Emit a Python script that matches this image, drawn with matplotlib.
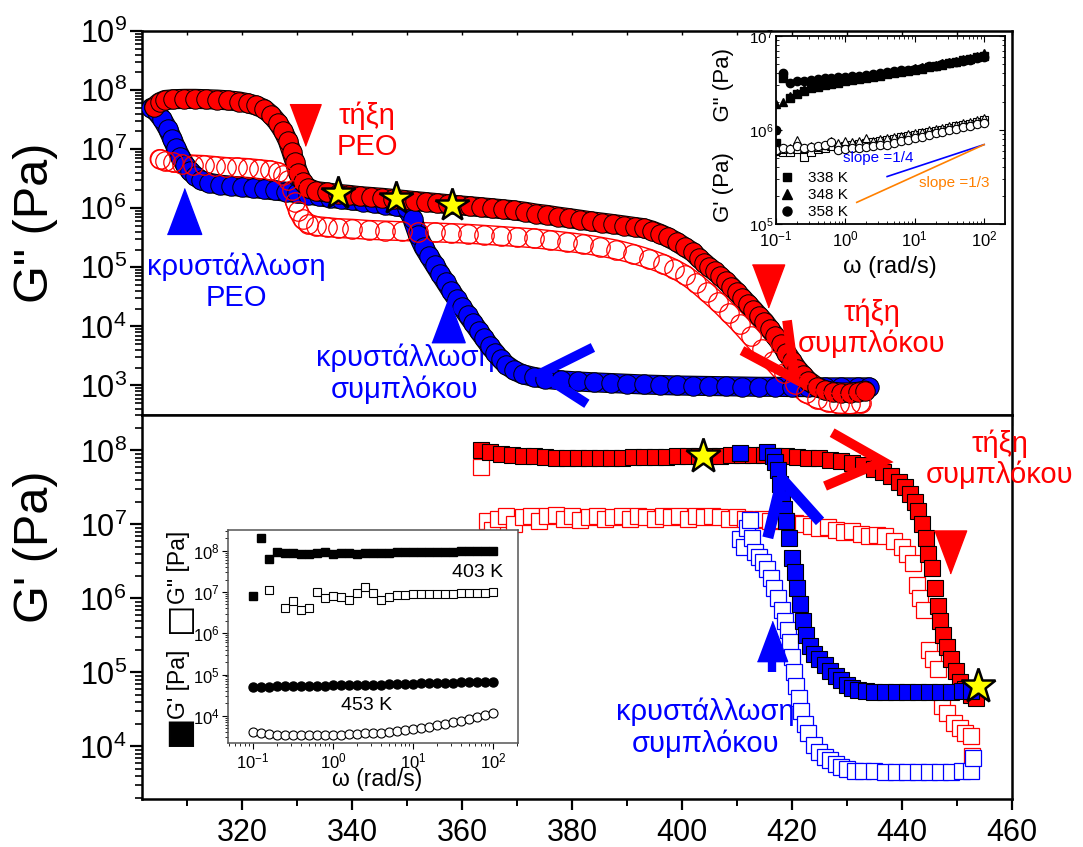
import numpy as np
import matplotlib
matplotlib.use('Agg')
import matplotlib.pyplot as plt
import matplotlib.patheffects as pe
from matplotlib.ticker import LogLocator, NullFormatter, MultipleLocator
from matplotlib.lines import Line2D

plt.rcParams['font.family'] = ['Liberation Sans', 'DejaVu Sans']
plt.rcParams['mathtext.fontset'] = 'custom'
plt.rcParams['mathtext.rm'] = 'Liberation Sans'
plt.rcParams['mathtext.it'] = 'Liberation Sans:italic'
plt.rcParams['mathtext.bf'] = 'Liberation Sans:bold'
plt.rcParams['mathtext.default'] = 'regular'

RED = '#ff0000'
BLUE = '#0000ff'
ORANGE = '#ff8000'

# ---- top panel: G'' vs T (K) ----
t_rf = [304.0, 305.0, 306.0, 307.5, 309.5, 311.5, 313.5, 315.5, 317.5, 319.5, 321.0, 322.5, 324.0,
        325.3, 326.5, 327.5, 328.3, 329.0, 329.6, 330.2, 331.0, 332.0, 333.5, 335.5, 337.5, 339.5,
        341.5, 343.5, 345.5, 347.5, 349.5, 351.5, 353.5, 355.5, 357.5, 359.5, 361.5, 363.5, 365.5,
        367.5, 369.5, 371.5, 373.5, 375.5, 377.5, 379.5, 381.5, 383.5, 385.5, 387.5, 389.5, 391.5,
        393.0, 394.5, 396.0, 397.5, 399.0, 400.5, 402.0, 403.0, 404.0, 405.0, 406.0, 407.0, 408.0,
        409.0, 410.0, 411.0, 412.0, 413.0, 414.0, 415.0, 416.0, 417.0, 418.0, 419.0, 420.0, 421.0,
        422.0, 423.0, 424.5, 426.0, 427.5, 429.0, 430.5, 432.0, 433.3]
g_rf = [5.2e7, 6.2e7, 6.8e7, 7.0e7, 7.1e7, 7.1e7, 7.0e7, 6.9e7, 6.7e7, 6.4e7, 6.0e7, 5.5e7, 4.8e7,
        3.8e7, 2.8e7, 2.0e7, 1.4e7, 9.0e6, 6.0e6, 4.0e6, 2.8e6, 2.2e6, 1.95e6, 1.85e6, 1.75e6, 1.68e6,
        1.6e6, 1.55e6, 1.5e6, 1.44e6, 1.38e6, 1.32e6, 1.27e6, 1.22e6, 1.17e6, 1.12e6, 1.08e6, 1.04e6, 1.0e6,
        9.6e5, 9.2e5, 8.7e5, 8.1e5, 7.7e5, 7.2e5, 6.8e5, 6.4e5, 6.0e5, 5.7e5, 5.4e5, 5.1e5, 4.8e5,
        4.6e5, 4.2e5, 3.7e5, 3.2e5, 2.7e5, 2.2e5, 1.8e5, 1.45e5, 1.2e5, 1.0e5, 8.5e4, 7.0e4, 5.8e4,
        4.7e4, 3.8e4, 3.0e4, 2.4e4, 1.9e4, 1.5e4, 1.2e4, 9.0e3, 6.8e3, 5.0e3, 3.6e3, 2.6e3, 1.9e3,
        1.5e3, 1.2e3, 9.5e2, 8.3e2, 7.8e2, 7.6e2, 7.6e2, 7.8e2, 8.2e2]

t_ro = [305.0, 306.0, 307.5, 309.0, 311.0, 313.0, 315.0, 317.0, 319.0, 321.0, 323.0, 325.0, 326.5,
        327.5, 328.3, 329.0, 329.6, 330.2, 331.0, 332.0, 333.5, 335.5, 337.5, 340.0, 343.0, 346.0,
        349.0, 352.0, 355.0, 358.0, 361.0, 364.0, 367.0, 370.0, 373.0, 376.0, 379.0, 382.0, 385.0,
        388.0, 391.0, 394.0, 396.5, 398.5, 400.5, 402.5, 404.5, 406.5, 408.5, 410.5, 412.5, 414.5,
        416.5, 418.5, 420.5, 422.5, 424.5, 426.5, 428.5, 430.5, 432.5]
g_ro = [6.8e6, 6.4e6, 6.0e6, 5.7e6, 5.5e6, 5.4e6, 5.2e6, 5.0e6, 4.9e6, 4.8e6, 4.6e6, 4.4e6, 4.1e6,
        3.7e6, 3.0e6, 2.0e6, 1.3e6, 9.0e5, 6.5e5, 5.5e5, 5.0e5, 4.8e5, 4.6e5, 4.5e5, 4.3e5, 4.2e5,
        4.1e5, 4.0e5, 3.9e5, 3.8e5, 3.7e5, 3.55e5, 3.4e5, 3.25e5, 3.1e5, 2.9e5, 2.7e5, 2.5e5, 2.25e5,
        2.0e5, 1.7e5, 1.4e5, 1.15e5, 9.5e4, 7.5e4, 5.5e4, 3.8e4, 2.6e4, 1.7e4, 1.1e4, 6.8e3, 4.2e3,
        2.6e3, 1.6e3, 1.05e3, 7.5e2, 6.0e2, 5.3e2, 4.9e2, 4.8e2, 5.0e2]

t_bf = [303.5, 304.5, 305.5, 306.5, 307.3, 308.0, 308.8, 309.6, 310.5, 311.5, 312.5, 314.0, 316.0,
        318.0, 320.0, 322.0, 324.0, 326.0, 328.0, 330.0, 332.0, 334.0, 336.0, 338.0, 340.0, 342.0,
        344.0, 346.0, 348.0, 350.0, 351.0, 352.0, 353.0, 354.0, 355.0, 356.0, 357.0, 358.0, 359.0,
        360.0, 361.0, 362.0, 363.0, 364.0, 365.0, 366.0, 367.0, 368.0, 369.5, 371.0, 373.0, 375.0,
        378.0, 381.0, 384.0, 387.0, 390.0, 393.0, 396.0, 399.0, 402.0, 405.0, 408.0, 411.0, 414.0,
        417.0, 420.0, 423.0, 426.0, 429.0, 432.0, 434.0]
g_bf = [5.0e7, 4.2e7, 3.2e7, 2.2e7, 1.5e7, 1.05e7, 7.5e6, 5.5e6, 4.3e6, 3.5e6, 3.0e6, 2.7e6, 2.5e6,
        2.4e6, 2.3e6, 2.2e6, 2.1e6, 2.0e6, 1.9e6, 1.8e6, 1.7e6, 1.6e6, 1.5e6, 1.43e6, 1.36e6, 1.3e6,
        1.23e6, 1.15e6, 1.08e6, 1.0e6, 6.5e5, 3.5e5, 2.2e5, 1.55e5, 1.1e5, 7.8e4, 5.6e4, 4.0e4, 2.9e4,
        2.1e4, 1.55e4, 1.15e4, 8.5e3, 6.3e3, 4.7e3, 3.6e3, 2.8e3, 2.25e3, 1.8e3, 1.55e3, 1.4e3, 1.3e3,
        1.22e3, 1.17e3, 1.13e3, 1.1e3, 1.07e3, 1.04e3, 1.02e3, 1.0e3, 9.9e2, 9.8e2, 9.7e2, 9.6e2, 9.5e2,
        9.5e2, 9.4e2, 9.4e2, 9.3e2, 9.3e2, 9.3e2, 9.3e2]

t_star_top = [337.4, 348.0, 358.2]
g_star_top = [1.78e6, 1.48e6, 1.12e6]

# ---- bottom panel: G' vs T (K) ----
t_sq_rf = [363.5, 365.0, 367.0, 369.0, 371.0, 373.0, 375.0, 377.0, 379.0, 381.0, 383.0, 385.0, 387.0,
           389.0, 391.0, 393.0, 395.0, 397.0, 399.0, 401.0, 403.0, 405.0, 407.0, 409.0, 411.0, 413.0,
           415.0, 417.0, 419.0, 421.0, 423.0, 425.0, 427.0, 429.0, 431.0, 433.0, 435.0, 436.5, 438.0,
           439.5, 440.5, 441.5, 442.3, 443.0, 443.7, 444.3, 444.8, 445.4, 446.0, 446.5, 447.0, 447.5,
           448.2, 449.0, 449.8, 450.6, 451.5, 452.5, 453.5]
g_sq_rf = [1.0e8, 9.5e7, 9.0e7, 8.7e7, 8.5e7, 8.3e7, 8.1e7, 8.0e7, 7.9e7, 7.9e7, 7.9e7, 7.9e7, 8.0e7,
           8.0e7, 8.1e7, 8.1e7, 8.2e7, 8.2e7, 8.3e7, 8.3e7, 8.4e7, 8.5e7, 8.5e7, 8.6e7, 8.6e7, 8.6e7,
           8.6e7, 8.5e7, 8.4e7, 8.2e7, 8.0e7, 7.8e7, 7.5e7, 7.2e7, 6.8e7, 6.3e7, 5.7e7, 5.1e7, 4.5e7,
           3.8e7, 3.2e7, 2.6e7, 2.0e7, 1.5e7, 1.0e7, 6.5e6, 4.0e6, 2.6e6, 1.4e6, 8.0e5, 5.0e5, 3.2e5,
           2.2e5, 1.5e5, 1.05e5, 7.5e4, 6.0e4, 5.0e4, 4.5e4]

t_sq_ro = [363.5, 364.5, 365.5, 366.5, 368.0, 369.5, 371.0, 372.5, 374.0, 375.5, 377.0, 378.5, 380.0,
           381.5, 383.0, 384.5, 386.0, 387.5, 389.0, 390.5, 392.0, 393.5, 395.0, 396.5, 398.0, 399.5,
           401.0, 402.5, 404.0, 405.5, 407.0, 408.5, 410.0, 411.5, 413.0, 414.5, 416.0, 417.5, 419.0,
           420.5, 422.0, 423.5, 425.0, 426.5, 428.0, 429.5, 431.0, 432.5, 434.0, 435.5, 437.0, 438.5,
           440.0, 441.0, 442.0, 442.7, 443.3, 444.0, 445.0, 445.7, 446.5, 447.3, 448.2, 449.5, 450.5,
           451.5, 452.5, 452.8]
g_sq_ro = [6.0e7, 1.1e7, 8.5e6, 1.2e7, 1.3e7, 1.0e7, 1.25e7, 1.3e7, 1.1e7, 1.3e7, 1.35e7, 1.2e7, 1.3e7,
           1.15e7, 1.25e7, 1.3e7, 1.2e7, 1.25e7, 1.3e7, 1.2e7, 1.3e7, 1.25e7, 1.2e7, 1.3e7, 1.25e7, 1.3e7,
           1.2e7, 1.3e7, 1.25e7, 1.3e7, 1.25e7, 1.2e7, 1.25e7, 1.2e7, 1.15e7, 1.2e7, 1.1e7, 1.15e7, 1.1e7,
           1.05e7, 1.0e7, 9.5e6, 9.0e6, 9.3e6, 8.5e6, 8.0e6, 8.2e6, 7.5e6, 7.0e6, 7.2e6, 6.9e6, 6.0e6,
           5.0e6, 4.0e6, 3.0e6, 1.5e6, 1.0e6, 7.0e5, 2.0e5, 1.5e5, 1.1e5, 3.5e4, 2.8e4, 2.1e4, 1.8e4,
           1.5e4, 1.4e4, 7.5e3]

t_sq_bf = [410.5, 415.5, 416.5, 417.0, 417.4, 417.8, 418.2, 418.6, 419.0, 419.5, 420.0, 420.5, 421.0,
           421.5, 422.0, 422.6, 423.3, 424.0, 425.0, 426.0, 427.0, 428.0, 429.0, 430.0, 431.0, 432.0,
           433.5, 435.0, 437.0, 439.0, 441.0, 443.0, 445.0, 447.0, 449.0, 451.0, 452.5]
g_sq_bf = [9.2e7, 9.5e7, 8.5e7, 7.0e7, 5.5e7, 3.5e7, 2.3e7, 1.6e7, 1.1e7, 6.5e6, 3.5e6, 2.3e6, 1.4e6,
           8.5e5, 5.0e5, 3.2e5, 2.3e5, 1.8e5, 1.5e5, 1.25e5, 1.05e5, 9.0e4, 7.8e4, 6.8e4, 6.2e4, 5.8e4,
           5.6e4, 5.5e4, 5.5e4, 5.5e4, 5.5e4, 5.5e4, 5.5e4, 5.5e4, 5.5e4, 5.6e4, 5.6e4]

t_sq_bo = [410.5, 411.2, 411.8, 412.3, 412.8, 413.3, 414.0, 414.7, 415.4, 416.1, 416.8, 417.5, 418.2,
           418.7, 419.2, 419.6, 420.0, 420.4, 420.8, 421.2, 421.7, 422.3, 423.0, 424.0, 425.0, 426.0,
           427.0, 428.0, 429.0, 430.0, 431.5, 433.0, 435.0, 437.0, 439.0, 441.0, 443.0, 445.0, 447.0,
           449.0, 451.0, 452.5, 453.0]
g_sq_bo = [6.3e6, 5.0e6, 9.0e6, 1.15e7, 6.5e6, 4.2e6, 3.6e6, 3.1e6, 2.5e6, 1.9e6, 1.4e6, 1.0e6, 7.0e5,
           5.0e5, 3.8e5, 2.6e5, 1.6e5, 1.0e5, 6.5e4, 4.5e4, 3.0e4, 2.0e4, 1.5e4, 1.05e4, 8.5e3, 7.2e3,
           6.5e3, 5.8e3, 5.2e3, 4.9e3, 4.7e3, 4.6e3, 4.6e3, 4.5e3, 4.5e3, 4.5e3, 4.5e3, 4.5e3, 4.5e3,
           4.5e3, 4.6e3, 4.7e3, 7.0e3]

t_star_bot = [403.8, 453.8]
g_star_bot = [8.3e7, 6.6e4]

# ---- insets: frequency sweeps ----
omega = [0.1, 0.126, 0.158, 0.2, 0.251, 0.316, 0.398, 0.501, 0.631, 0.794, 1.0, 1.26, 1.58, 2.0, 2.51,
         3.16, 3.98, 5.01, 6.31, 7.94, 10.0, 12.6, 15.8, 20.0, 25.1, 31.6, 39.8, 50.1, 63.1, 79.4, 100.0]

gp_338 = [7.2e5, 3.6e6, 2.2e6, 2.4e6, 2.6e6, 2.8e6, 2.9e6, 3.0e6, 3.1e6, 3.2e6, 3.3e6, 3.4e6, 3.5e6,
          3.6e6, 3.7e6, 3.8e6, 3.9e6, 4.0e6, 4.1e6, 4.25e6, 4.4e6, 4.5e6, 4.65e6, 4.8e6, 4.95e6, 5.1e6,
          5.3e6, 5.5e6, 5.7e6, 5.95e6, 6.2e6]
gp_348 = [1.9e6, 2.0e6, 2.3e6, 2.5e6, 2.7e6, 2.85e6, 3.0e6, 3.1e6, 3.2e6, 3.3e6, 3.4e6, 3.5e6, 3.6e6,
          3.7e6, 3.8e6, 3.9e6, 4.0e6, 4.1e6, 4.25e6, 4.4e6, 4.55e6, 4.7e6, 4.8e6, 4.95e6, 5.1e6, 5.25e6,
          5.45e6, 5.65e6, 5.9e6, 6.2e6, 6.6e6]
gp_358 = [1.0e6, 4.0e6, 3.2e6, 3.3e6, 3.35e6, 3.4e6, 3.5e6, 3.55e6, 3.6e6, 3.65e6, 3.7e6, 3.75e6, 3.8e6,
          3.85e6, 3.95e6, 4.0e6, 4.1e6, 4.2e6, 4.3e6, 4.4e6, 4.5e6, 4.6e6, 4.75e6, 4.85e6, 5.0e6, 5.1e6,
          5.25e6, 5.4e6, 5.6e6, 5.8e6, 6.0e6]
gpp_338 = [6.0e5, 5.8e5, 5.9e5, 6.3e5, 5.2e5, 5.9e5, 6.3e5, 6.5e5, 6.7e5, 6.6e5, 6.8e5, 7.0e5, 7.1e5,
           7.3e5, 7.5e5, 7.7e5, 7.9e5, 8.1e5, 8.4e5, 8.6e5, 8.9e5, 9.2e5, 9.5e5, 9.8e5, 1.01e6, 1.05e6,
           1.09e6, 1.13e6, 1.17e6, 1.22e6, 1.28e6]
gpp_348 = [6.2e5, 6.3e5, 6.5e5, 7.8e5, 6.4e5, 6.8e5, 6.6e5, 7.0e5, 7.6e5, 7.2e5, 7.6e5, 7.4e5, 7.7e5,
           8.2e5, 7.6e5, 8.0e5, 8.3e5, 8.4e5, 8.7e5, 9.0e5, 9.2e5, 9.6e5, 9.9e5, 1.02e6, 1.05e6, 1.1e6,
           1.13e6, 1.18e6, 1.22e6, 1.28e6, 1.33e6]
gpp_358 = [6.2e5, 6.4e5, 6.3e5, 6.8e5, 6.5e5, 6.6e5, 6.7e5, 6.9e5, 7.4e5, 6.2e5, 6.3e5, 6.5e5, 6.4e5,
           6.6e5, 6.8e5, 6.9e5, 7.0e5, 7.3e5, 7.6e5, 7.9e5, 8.3e5, 8.5e5, 8.8e5, 9.2e5, 9.5e5, 9.9e5,
           1.03e6, 1.07e6, 1.11e6, 1.15e6, 1.18e6]

gp_403 = [8.1e6, 2.1e8, 6.3e7, 9.6e7, 8.8e7, 8.8e7, 8.4e7, 8.6e7, 8.8e7, 9.3e7, 8.6e7, 8.8e7, 9.0e7,
          8.6e7, 8.7e7, 9.1e7, 9.0e7, 9.1e7, 9.2e7, 9.3e7, 9.3e7, 9.4e7, 9.4e7, 9.5e7, 9.6e7, 9.6e7,
          9.7e7, 9.8e7, 9.8e7, 9.9e7, 1.0e8]
gpp_403 = [np.nan, np.nan, 1.1e7, np.nan, 4.2e6, 6.0e6, 3.6e6, 4.0e6, 1.0e7, 7.2e6, 8.2e6, 7.5e6, 6.3e6,
           9.5e6, 1.35e7, 9.7e6, 6.3e6, 7.6e6, 8.3e6, 8.6e6, 8.8e6, 8.9e6, 9.0e6, 9.0e6, 9.1e6, 9.2e6,
           9.3e6, 9.4e6, 9.5e6, 9.6e6, 9.8e6]
gp_453 = [5.0e4, 5.05e4, 5.1e4, 5.15e4, 5.2e4, 5.25e4, 5.3e4, 5.3e4, 5.35e4, 5.4e4, 5.45e4, 5.5e4, 5.55e4,
          5.6e4, 5.65e4, 5.7e4, 5.75e4, 5.8e4, 5.9e4, 5.95e4, 6.0e4, 6.1e4, 6.15e4, 6.2e4, 6.3e4, 6.35e4,
          6.45e4, 6.5e4, 6.6e4, 6.7e4, 6.8e4]
gpp_453 = [4.1e3, 3.8e3, 3.6e3, 3.5e3, 3.4e3, 3.35e3, 3.4e3, 3.4e3, 3.45e3, 3.5e3, 3.45e3, 3.5e3, 3.6e3,
           3.7e3, 3.75e3, 3.8e3, 3.9e3, 4.1e3, 4.3e3, 4.5e3, 4.8e3, 5.1e3, 5.4e3, 5.9e3, 6.4e3, 7.0e3,
           7.7e3, 8.5e3, 9.5e3, 1.05e4, 1.17e4]

# guide lines in the upper inset
slope4_w = [4.0, 100.0]
slope4_g = [3.2e5, 7.0e5]
slope3_w = [1.46, 100.0]
slope3_g = [1.7e5, 7.0e5]

# tall triangle marker like the Origin arrows
tri_down = [(-0.75, 1.0), (0.75, 1.0), (0.0, -1.0)]
tri_up = [(-0.75, -1.0), (0.75, -1.0), (0.0, 1.0)]


def dense_band(ax, t, g, face, edge, z, hollow=False):
    # the original curves are hundreds of overlapping markers; a fat outlined line stands in for them
    if hollow:
        fx = [pe.Stroke(linewidth=14.5, foreground=edge), pe.Stroke(linewidth=12.5, foreground='white')]
    else:
        fx = [pe.Stroke(linewidth=14.5, foreground=edge), pe.Normal()]
    ax.plot(t, g, color=face, lw=13, solid_capstyle='round', solid_joinstyle='round',
            path_effects=fx, zorder=z)


fig = plt.figure(figsize=(10.83, 8.47), dpi=100)
ax1 = fig.add_axes([0.1311, 0.51, 0.8033, 0.4534])
ax2 = fig.add_axes([0.1311, 0.0567, 0.8033, 0.4534])

for ax in (ax1, ax2):
    ax.set_yscale('log')
    ax.set_xlim(301.8, 460)
    ax.xaxis.set_major_locator(MultipleLocator(20))
    ax.xaxis.set_minor_locator(MultipleLocator(10))
    ax.yaxis.set_major_locator(LogLocator(base=10, numticks=20))
    ax.yaxis.set_minor_locator(LogLocator(base=10, subs=np.arange(2, 10), numticks=20))
    ax.yaxis.set_minor_formatter(NullFormatter())
    for s in ax.spines.values():
        s.set_linewidth(1.8)
    ax.tick_params(axis='y', which='major', direction='out', length=9, width=1.6, labelsize=22, pad=2)
    ax.tick_params(axis='y', which='minor', direction='out', length=5, width=1.2)
    ax.tick_params(axis='x', which='major', direction='out', length=8, width=1.6, labelsize=22, pad=6)
    ax.tick_params(axis='x', which='minor', direction='out', length=5, width=1.4)

ax1.set_ylim(10 ** 2.5, 1e9)
ax2.set_ylim(10 ** 3.29, 10 ** 8.48)
ax1.tick_params(axis='x', labelbottom=False)
sec = ax1.secondary_xaxis('top')
sec.xaxis.set_major_locator(MultipleLocator(20))
sec.xaxis.set_minor_locator(MultipleLocator(10))
sec.tick_params(which='both', direction='in', length=3, width=1.0, labeltop=False)
sec.spines['top'].set_visible(False)

# top panel data
dense_band(ax1, t_ro, g_ro, 'white', RED, 1.5, hollow=True)
dense_band(ax1, t_bf, g_bf, BLUE, 'k', 2.5)
ax1.plot(t_bf, g_bf, ls='none', marker='o', ms=14, mfc=BLUE, mec='k', mew=0.7, zorder=2.6)
dense_band(ax1, t_rf, g_rf, RED, 'k', 3.5)
ax1.plot(t_rf, g_rf, ls='none', marker='o', ms=14, mfc=RED, mec='k', mew=0.7, zorder=3.6)
ax1.plot(t_ro, g_ro, ls='none', marker='o', ms=14, mfc='none', mec=RED, mew=0.9, zorder=5)
ax1.plot(t_star_top, g_star_top, ls='none', marker='*', ms=25, mfc='#ffff00', mec='k', mew=1.8, zorder=6)

# top panel annotations
ax1.plot([331.4], [2.6e7], ls='none', marker=tri_down, ms=30, color=RED, zorder=6)
ax1.text(342.7, 2.0e7, 'τήξη\nPEO', color=RED, fontsize=21, ha='center', va='center', linespacing=1.15)
ax1.plot([309.4], [8.9e5], ls='none', marker=tri_up, ms=33, color=BLUE, zorder=6)
ax1.text(318.9, 5.6e4, 'κρυστάλλωση\nPEO', color=BLUE, fontsize=21, ha='center', va='center',
         linespacing=1.15)
ax1.plot([357.4], [1.26e4], ls='none', marker=tri_up, ms=32, color=BLUE, zorder=6)
ax1.text(349.6, 1.58e3, 'κρυστάλλωση\nσυμπλόκου', color=BLUE, fontsize=21, ha='center', va='center',
         linespacing=1.15, zorder=1)
ax1.plot([383.8, 374.2, 382.7], [4.4e3, 1.58e3, 4.9e2], color=BLUE, lw=7,
         solid_joinstyle='miter', solid_capstyle='butt', zorder=7)
ax1.plot([415.6], [4.9e4], ls='none', marker=tri_down, ms=31, color=RED, zorder=6)
ax1.text(434.5, 9.3e3, 'τήξη\nσυμπλόκου', color=RED, fontsize=21, ha='center', va='center',
         linespacing=1.15, zorder=1)
ax1.plot([419.1, 420.5, 410.9], [1.26e4, 1.3e3, 3.9e3], color=RED, lw=7,
         solid_joinstyle='miter', solid_capstyle='butt', zorder=7)

# bottom panel data
ax2.plot(t_sq_ro, g_sq_ro, ls='none', marker='s', ms=12, mfc='white', mec=RED, mew=0.9, zorder=3)
ax2.plot(t_sq_rf, g_sq_rf, ls='none', marker='s', ms=12, mfc=RED, mec='k', mew=0.8, zorder=4)
ax2.plot(t_sq_bo, g_sq_bo, ls='none', marker='s', ms=12, mfc='white', mec=BLUE, mew=0.9, zorder=5)
ax2.plot(t_sq_bf, g_sq_bf, ls='none', marker='s', ms=12, mfc=BLUE, mec='k', mew=0.8, zorder=6)
ax2.plot(t_star_bot, g_star_bot, ls='none', marker='*', ms=26, mfc='#ffff00', mec='k', mew=1.8, zorder=8)

# bottom panel annotations
ax2.plot([427.3, 436.5, 426.0], [1.74e8, 7.1e7, 3.3e7], color=RED, lw=7,
         solid_joinstyle='miter', solid_capstyle='butt', zorder=7)
ax2.text(457.8, 7.6e7, 'τήξη\nσυμπλόκου', color=RED, fontsize=21, ha='center', va='center',
         linespacing=1.15, clip_on=False)
ax2.plot([448.7], [4.2e6], ls='none', marker=tri_down, ms=31, color=RED, zorder=7)
ax2.plot([415.6, 418.2, 425.1], [6.6e6, 4.1e7, 1.1e7], color=BLUE, lw=8,
         solid_joinstyle='miter', solid_capstyle='butt', zorder=7)
ax2.plot([416.3], [2.7e5], ls='none', marker=tri_up, ms=29, color=BLUE, zorder=7)
ax2.plot([416.3, 416.3], [1.6e5, 1.0e5], color=BLUE, lw=6, solid_capstyle='butt', zorder=7)
ax2.text(404.2, 1.8e4, 'κρυστάλλωση\nσυμπλόκου', color=BLUE, fontsize=21, ha='center', va='center',
         linespacing=1.15, zorder=1)

fig.text(0.0332, 0.7367, 'G" (Pa)', fontsize=35, rotation=90, ha='center', va='center')
fig.text(0.0332, 0.354, "G' (Pa)", fontsize=35, rotation=90, ha='center', va='center')

# upper inset
axi = fig.add_axes([0.7165, 0.7355, 0.2115, 0.222])
axi.set_xscale('log')
axi.set_yscale('log')
axi.set_xlim(0.1, 200)
axi.set_ylim(1e5, 1e7)
for s in axi.spines.values():
    s.set_linewidth(1.3)
axi.tick_params(which='both', direction='in', top=True, right=True)
axi.tick_params(axis='x', labelsize=12, pad=4)
axi.tick_params(axis='y', labelsize=11, pad=2)
axi.tick_params(which='major', length=4)
axi.tick_params(which='minor', length=2)
axi.plot(omega, gp_338, ls='none', marker='s', ms=5.5, color='k')
axi.plot(omega, gp_348, ls='none', marker='^', ms=6, color='k')
axi.plot(omega, gp_358, ls='none', marker='o', ms=6, color='k')
axi.plot(omega, gpp_338, ls='none', marker='s', ms=5.5, mfc='white', mec='k', mew=0.8)
axi.plot(omega, gpp_348, ls='none', marker='^', ms=6, mfc='white', mec='k', mew=0.8)
axi.plot(omega, gpp_358, ls='none', marker='o', ms=6, mfc='white', mec='k', mew=0.8)
axi.plot(slope4_w, slope4_g, color=BLUE, lw=1.2)
axi.plot(slope3_w, slope3_g, color=ORANGE, lw=1.2)
axi.text(2.94, 5.0e5, 'slope =1/4', color=BLUE, fontsize=11, ha='center', va='center')
axi.text(36.5, 2.73e5, 'slope =1/3', color=ORANGE, fontsize=11, ha='center', va='center')
leg_handles = [Line2D([], [], ls='none', marker='s', ms=6, color='k'),
               Line2D([], [], ls='none', marker='^', ms=6.5, color='k'),
               Line2D([], [], ls='none', marker='o', ms=6.5, color='k')]
axi.legend(leg_handles, ['338 K', '348 K', '358 K'], loc='lower left', frameon=False, fontsize=11,
           handlelength=0.8, handletextpad=1.0, labelspacing=0.2, borderaxespad=0.1, borderpad=0.2)
fig.text(723 / 1083, 1 - 135 / 847, "G' (Pa)     G\" (Pa)", fontsize=16, rotation=90,
         ha='center', va='center')
fig.text(890 / 1083, 1 - 267 / 847, 'ω (rad/s)', fontsize=17, ha='center', va='center')

# lower inset
axb = fig.add_axes([0.2105, 0.1228, 0.2678, 0.2515])
axb.set_xscale('log')
axb.set_yscale('log')
axb.set_xlim(0.049, 205)
axb.set_ylim(2.2e3, 3.2e8)
for s in axb.spines.values():
    s.set_linewidth(1.1)
    s.set_color('#555555')
axb.yaxis.set_major_locator(LogLocator(base=10, numticks=20))
axb.yaxis.set_minor_locator(LogLocator(base=10, subs=np.arange(2, 10), numticks=20))
axb.yaxis.set_minor_formatter(NullFormatter())
axb.tick_params(which='both', direction='out', labelsize=12, pad=2)
axb.tick_params(which='major', length=4)
axb.tick_params(which='minor', length=2)
axb.plot(omega, gp_403, ls='none', marker='s', ms=5.5, color='k')
axb.plot(omega, gpp_403, ls='none', marker='s', ms=6, mfc='white', mec='k', mew=0.8)
axb.plot(omega, gp_453, ls='none', marker='o', ms=6.5, color='k')
axb.plot(omega, gpp_453, ls='none', marker='o', ms=6.5, mfc='white', mec='k', mew=0.8)
axb.text(65, 2.9e7, '403 K', fontsize=14, ha='center', va='center')
axb.text(2.6, 1.8e4, '453 K', fontsize=14, ha='center', va='center')
fig.text(178 / 1083, 1 - 730 / 847, '■', fontsize=24, rotation=90, ha='center', va='center',
         family=['DejaVu Sans'])
fig.text(178 / 1083, 1 - 684 / 847, "G' [Pa]", fontsize=16.5, rotation=90, ha='center', va='center')
fig.text(178 / 1083, 1 - 617 / 847, '□', fontsize=24, rotation=90, ha='center', va='center',
         family=['DejaVu Sans'])
fig.text(178 / 1083, 1 - 567 / 847, 'G" [Pa]', fontsize=16.5, rotation=90, ha='center', va='center')
fig.text(377 / 1083, 1 - 779 / 847, 'ω (rad/s)', fontsize=16.5, ha='center', va='center')

fig.savefig('out.png', dpi=100)
